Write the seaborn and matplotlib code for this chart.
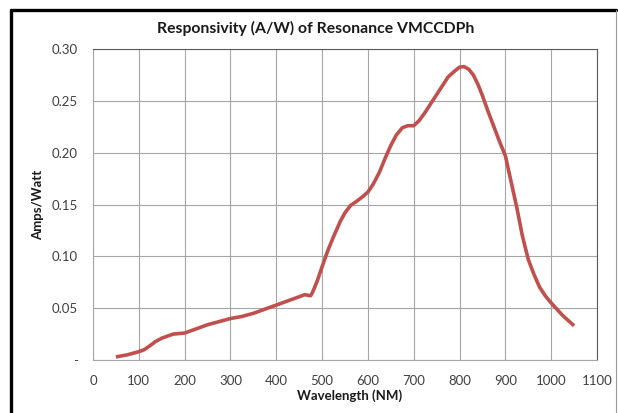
"""
responsivity curve of Resonance VMCCDPh
"""

import seaborn as sns
import matplotlib.pyplot as plt
import pandas as pd
from matplotlib.lines import Line2D
from matplotlib.ticker import FuncFormatter

wavelength = [50, 75, 100, 112, 125, 137, 150, 162, 175, 200, 225, 250, 275,
              300, 325, 350, 375, 400, 425, 450, 462, 475, 480, 490, 500, 512,
              525, 540, 550, 562, 575, 587, 600, 612, 625, 637, 650, 662, 675,
              687, 700, 712, 725, 750, 775, 790, 800, 810, 820, 830, 840, 850,
              862, 875, 887, 900, 912, 925, 937, 950, 962, 975, 987, 1000, 1025,
              1050]
amps_watt = [0.003, 0.005, 0.008, 0.010, 0.014, 0.018, 0.021, 0.023, 0.025,
             0.026, 0.030, 0.034, 0.037, 0.040, 0.042, 0.045, 0.049, 0.053,
             0.057, 0.061, 0.063, 0.062, 0.066, 0.077, 0.090, 0.105, 0.119,
             0.134, 0.142, 0.149, 0.153, 0.157, 0.162, 0.170, 0.181, 0.194,
             0.207, 0.217, 0.224, 0.226, 0.226, 0.231, 0.239, 0.256, 0.273,
             0.279, 0.2825, 0.283, 0.2805, 0.275, 0.266, 0.255, 0.240, 0.225,
             0.211, 0.197, 0.173, 0.147, 0.120, 0.097, 0.083, 0.070, 0.062,
             0.055, 0.043, 0.033]
x_ticks = list(range(0, 1101, 100))
y_ticks = [0, 0.05, 0.10, 0.15, 0.20, 0.25, 0.30]

df = pd.DataFrame({"wavelength": wavelength, "amps": amps_watt})

sns.set_style("whitegrid")
plt.rcParams["font.family"] = ["Lato", "DejaVu Sans"]

fig = plt.figure(figsize=(6.18, 4.13), dpi=100)
ax = fig.add_axes([93 / 618, 1 - 360 / 413, (597 - 93) / 618, (360 - 49) / 413])

sns.lineplot(data=df, x="wavelength", y="amps", color="#C0504D", lw=2.6,
             ax=ax, solid_capstyle="butt", solid_joinstyle="round")

ax.set_xlim(0, 1100)
ax.set_ylim(0, 0.30)
ax.set_xticks(x_ticks)
ax.set_yticks(y_ticks)
ax.yaxis.set_major_formatter(FuncFormatter(lambda v, p: "-" if v == 0 else f"{v:.2f}"))
ax.grid(True, color="#A6A6A6", lw=0.8)
ax.tick_params(axis="both", colors="#8c8c8c", labelcolor="#404040",
               labelsize=9.5, length=5, width=0.8, direction="out")
ax.tick_params(axis="x", pad=6)
ax.tick_params(axis="y", pad=6)
for side in ["left", "bottom"]:
    ax.spines[side].set_color("#A6A6A6")
    ax.spines[side].set_linewidth(0.8)
for side in ["right", "top"]:
    ax.spines[side].set_color("#595959")
    ax.spines[side].set_linewidth(0.8)
ax.set_xlabel("")
ax.set_ylabel("")

fig.text(316 / 618, 1 - 28 / 413, "Responsivity (A/W) of Resonance VMCCDPh",
         ha="center", va="center", fontsize=11.3, fontweight="bold", color="#1a1a1a")
fig.text(350 / 618, 1 - 396 / 413, "Wavelength (NM)", ha="center", va="center",
         fontsize=9.5, fontweight="bold", color="#1a1a1a")
fig.text(38 / 618, 1 - 205 / 413, "Amps/Watt", ha="center", va="center",
         rotation=90, fontsize=9.5, fontweight="bold", color="#1a1a1a")

# chart frame
fig.add_artist(Line2D([11 / 618, 11 / 618], [-0.01, 1 - 10 / 413], color="black", lw=2.4))
fig.add_artist(Line2D([11 / 618, 616 / 618], [1 - 10 / 413, 1 - 10 / 413], color="black", lw=2.4))
fig.add_artist(Line2D([616 / 618, 616 / 618], [-0.01, 1 - 10 / 413], color="#9a9a9a", lw=0.8))

fig.savefig("out.png", dpi=100)
